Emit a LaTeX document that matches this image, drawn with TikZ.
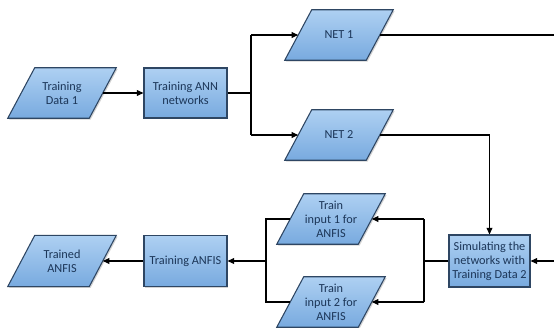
\documentclass[tikz,border=0pt]{standalone}
\usepackage{fontspec}
\setmainfont{Carlito}
\usetikzlibrary{arrows.meta,shadows,calc}
\pgfdeclarelayer{background}
\pgfsetlayers{background,main}
\definecolor{boxtop}{HTML}{AED0F2}
\definecolor{boxbot}{HTML}{78AADF}
\definecolor{boxline}{HTML}{2E4663}
\definecolor{boxtext}{HTML}{1C3658}
\tikzset{
  boxlook/.style={draw=boxline, line width=0.8pt, top color=boxtop, bottom color=boxbot,
    drop shadow={shadow xshift=1pt, shadow yshift=-1pt, opacity=0.35}},
  boxtxt/.style={text=boxtext, align=center, font=\fontsize{9.2}{10.6}\selectfont, inner sep=1pt},
  procbox/.style={boxlook, boxtxt, rectangle, minimum width=62.25pt, minimum height=37.5pt},
  databox/.style={boxtxt, rectangle, minimum width=60.75pt, minimum height=37.5pt},
  conn/.style={line width=0.8pt, black},
  arr/.style={conn, -{Triangle[length=5pt,width=4.4pt]}}
}
\begin{document}
\begin{tikzpicture}[x=0.75pt,y=-0.75pt]
\useasboundingbox (0,0) rectangle (554,328);
% nodes
\node[databox] (td1) at (62,93) {Training\\Data 1};
\node[procbox] (ann) at (185.5,93) {Training ANN\\networks};
\node[databox] (net1) at (339,35) {NET 1};
\node[databox] (net2) at (339,135) {NET 2};
\node[procbox, minimum width=60.75pt, minimum height=39pt] (sim) at (489.5,261) {Simulating the\\networks with\\Training Data 2};
\node[databox] (ti1) at (331,219) {Train\\input 1 for\\ANFIS};
\node[databox] (ti2) at (331,302) {Train\\input 2 for\\ANFIS};
\node[procbox, minimum height=38pt] (anfis) at (185.5,261) {Training ANFIS};
\node[databox, minimum height=38pt] (trained) at (62,261) {Trained\\ANFIS};
% parallelogram outlines behind the data nodes
\begin{pgfonlayer}{background}
\foreach \n in {td1,net1,net2,ti1,ti2,trained}{
  \path[boxlook] ($(\n.south west)+(-13.5,0)$) -- ($(\n.south east)+(-13.5,0)$)
    -- ($(\n.north east)+(13.5,0)$) -- ($(\n.north west)+(13.5,0)$) -- cycle;
}
\end{pgfonlayer}
% coordinates
\coordinate (split) at (251,93);
\coordinate (s1) at (251,35);
\coordinate (s2) at (251,135);
\coordinate (r1) at (555,35);
\coordinate (r2) at (555,261);
\coordinate (d1) at (sim.north |- net2.center);
\coordinate (lsplit) at (424,261);
\coordinate (l1) at (424,219);
\coordinate (l2) at (424,302);
\coordinate (m1) at (266,219);
\coordinate (m2) at (266,302);
\coordinate (mj) at (266,261);
% connectors
\draw[arr] (td1) -- (ann);
\draw[conn] (ann) -- (split);
\draw[conn] (s1) -- (s2);
\draw[arr] (s1) -- (net1);
\draw[arr] (s2) -- (net2);
\draw[conn] (net1) -- (r1) -- (r2);
\draw[arr] (r2) -- (sim);
\draw[arr] (net2) -- (d1) -- (sim.north);
\draw[conn] (sim) -- (lsplit);
\draw[conn] (l1) -- (l2);
\draw[arr] (l1) -- (ti1);
\draw[arr] (l2) -- (ti2);
\draw[conn] (ti1) -- (m1) -- (m2) -- (ti2);
\draw[arr] (mj) -- (anfis);
\draw[arr] (anfis) -- (trained);
\end{tikzpicture}
\end{document}
